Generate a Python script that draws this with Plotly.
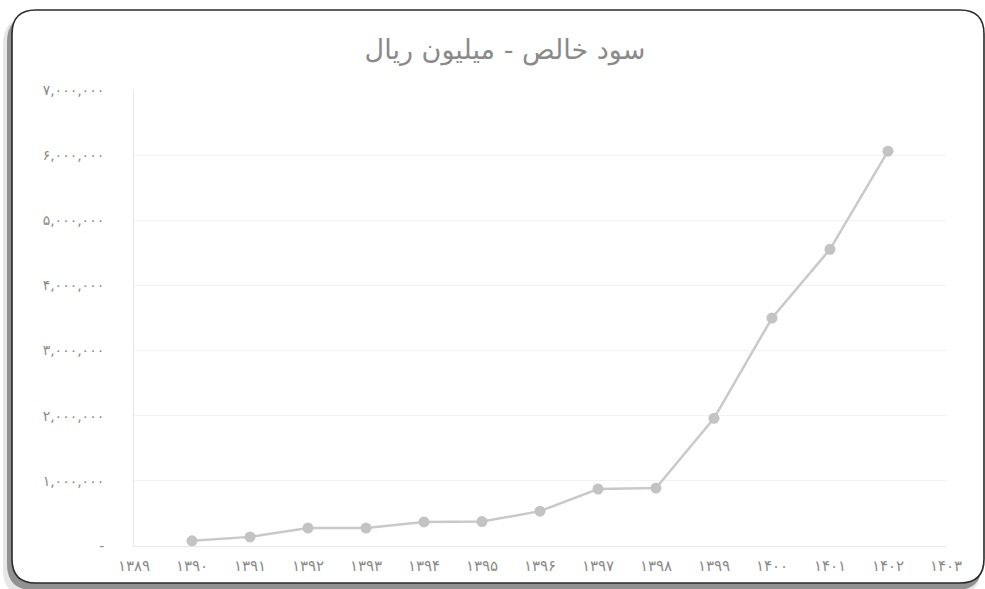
import plotly.graph_objects as go

years = [1390, 1391, 1392, 1393, 1394, 1395, 1396, 1397, 1398, 1399, 1400, 1401, 1402]
net_profit = [80000, 140000, 275000, 275000, 370000, 375000, 535000, 875000, 890000, 1960000, 3500000, 4555000, 6060000]

x_tick_vals = list(range(1389, 1404))
x_tick_text = ["۱۳۸۹", "۱۳۹۰", "۱۳۹۱", "۱۳۹۲", "۱۳۹۳", "۱۳۹۴", "۱۳۹۵", "۱۳۹۶", "۱۳۹۷",
               "۱۳۹۸", "۱۳۹۹", "۱۴۰۰", "۱۴۰۱", "۱۴۰۲", "۱۴۰۳"]
y_tick_vals = [0, 1000000, 2000000, 3000000, 4000000, 5000000, 6000000, 7000000]
y_tick_text = ["-", "۱,۰۰۰,۰۰۰", "۲,۰۰۰,۰۰۰", "۳,۰۰۰,۰۰۰", "۴,۰۰۰,۰۰۰",
               "۵,۰۰۰,۰۰۰", "۶,۰۰۰,۰۰۰", "۷,۰۰۰,۰۰۰"]
title_text = "سود خالص - میلیون ریال"

W, H = 985, 589
L, R, T, B = 134, 39, 90, 43
PW, PH = W - L - R, H - T - B


def px(x):
    return (x - L) / PW


def py(y):
    return (H - B - y) / PH


def rounded_path(x0, y0, x1, y1, r):
    pts = []
    pts.append(f"M {px(x0 + r)},{py(y0)}")
    pts.append(f"L {px(x1 - r)},{py(y0)}")
    pts.append(f"Q {px(x1)},{py(y0)} {px(x1)},{py(y0 + r)}")
    pts.append(f"L {px(x1)},{py(y1 - r)}")
    pts.append(f"Q {px(x1)},{py(y1)} {px(x1 - r)},{py(y1)}")
    pts.append(f"L {px(x0 + r)},{py(y1)}")
    pts.append(f"Q {px(x0)},{py(y1)} {px(x0)},{py(y1 - r)}")
    pts.append(f"L {px(x0)},{py(y0 + r)}")
    pts.append(f"Q {px(x0)},{py(y0)} {px(x0 + r)},{py(y0)} Z")
    return " ".join(pts)


shapes = [
    dict(type="path", xref="paper", yref="paper", layer="below",
         path=rounded_path(3, 18, 980, 596, 26), fillcolor="rgba(140,140,140,0.22)", line=dict(width=0)),
    dict(type="path", xref="paper", yref="paper", layer="below",
         path=rounded_path(7, 16, 982, 590, 26), fillcolor="rgba(60,60,60,0.5)", line=dict(width=0)),
    dict(type="path", xref="paper", yref="paper", layer="below",
         path=rounded_path(12, 10, 984, 583, 24), fillcolor="white",
         line=dict(color="#2a2a2a", width=1.6)),
]

fig = go.Figure()
fig.add_trace(go.Scatter(
    x=years, y=net_profit, mode="lines+markers",
    line=dict(color="#c9c9c9", width=2.5),
    marker=dict(color="#c3c3c3", size=11),
    hoverinfo="x+y", showlegend=False,
))

fig.update_layout(
    width=W, height=H,
    margin=dict(l=L, r=R, t=T, b=B),
    paper_bgcolor="white",
    plot_bgcolor="rgba(0,0,0,0)",
    font=dict(family="DejaVu Sans", color="#8a8a8a"),
    title=dict(text=title_text, x=505 / W, xanchor="center", y=1 - 50 / H, yanchor="middle",
               font=dict(size=27, color="#8a8a8a", family="DejaVu Sans")),
    shapes=shapes,
    xaxis=dict(range=[1389, 1403], tickmode="array", tickvals=x_tick_vals, ticktext=x_tick_text,
               showgrid=False, zeroline=False, showline=True, linecolor="#e6e6e6", linewidth=1,
               ticks="", tickfont=dict(size=15, color="#8a8a8a"), ticklabelstandoff=6),
    yaxis=dict(range=[0, 7000000], tickmode="array", tickvals=y_tick_vals, ticktext=y_tick_text,
               showgrid=True, gridcolor="#f2f2f2", gridwidth=1, zeroline=False,
               showline=True, linecolor="#e6e6e6", linewidth=1,
               ticks="", tickfont=dict(size=14, color="#8a8a8a"), ticklabelstandoff=26),
)

fig.write_html("out.html", config={"displayModeBar": False},
               post_script="document.body.style.margin='0';document.body.style.overflow='hidden';")
